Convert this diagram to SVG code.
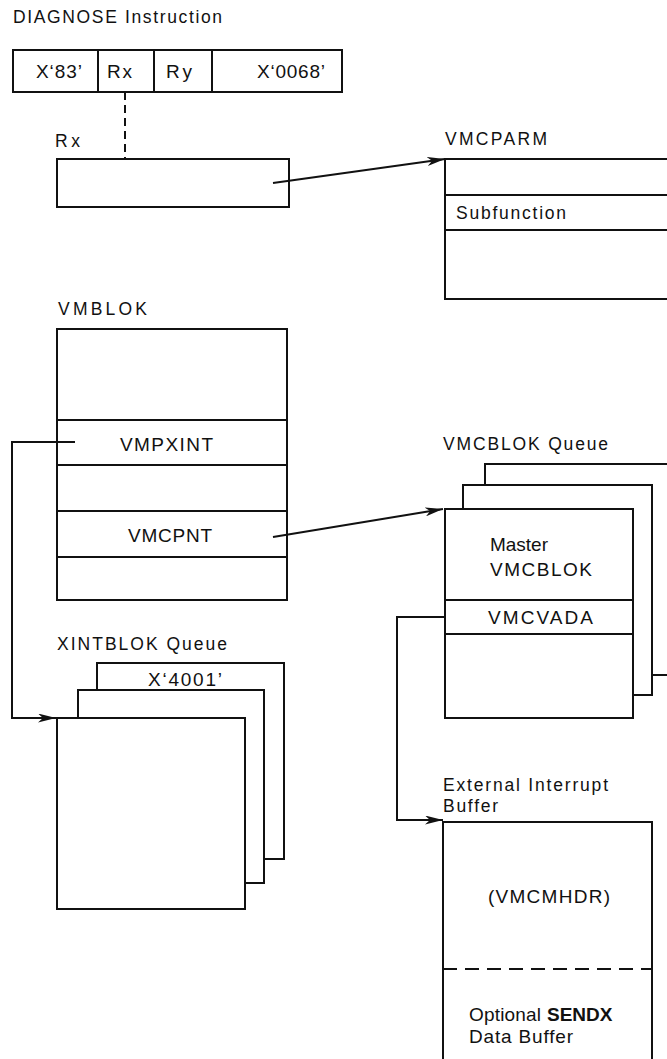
<svg xmlns="http://www.w3.org/2000/svg" width="667" height="1059" viewBox="0 0 667 1059">
<style>
.b{fill:#fff;stroke:#111;stroke-width:2}
.l{fill:none;stroke:#111;stroke-width:2}
.t{font-family:"Liberation Sans",Arial,sans-serif;font-size:17.5px;fill:#111}
.tb{font-family:"Liberation Sans",Arial,sans-serif;font-size:19px;fill:#111}
</style>
<defs>
<marker id="ah" viewBox="0 0 18 9" refX="18" refY="4.5" markerWidth="18" markerHeight="9" markerUnits="userSpaceOnUse" orient="auto">
<path d="M0,0 L18,4.5 L0,9 L5,4.5 Z" fill="#111"/>
</marker>
</defs>
<rect width="667" height="1059" fill="#fff"/>
<text class="t" x="13" y="23" textLength="209" lengthAdjust="spacing">DIAGNOSE Instruction</text>

<g id="instruction">
<rect class="b" x="13" y="50" width="329" height="42"/>
<line class="l" x1="98" y1="50" x2="98" y2="92"/>
<line class="l" x1="154" y1="50" x2="154" y2="92"/>
<line class="l" x1="212" y1="50" x2="212" y2="92"/>
<text class="tb" x="36" y="78" textLength="46" lengthAdjust="spacing">X‘83’</text>
<text class="tb" x="107" y="78" textLength="25" lengthAdjust="spacing">Rx</text>
<text class="tb" x="166" y="78" textLength="26" lengthAdjust="spacing">Ry</text>
<text class="tb" x="257" y="78" textLength="68" lengthAdjust="spacing">X‘0068’</text>
</g>

<g id="rx">
<text class="t" x="55" y="147" textLength="25" lengthAdjust="spacing">Rx</text>
<rect class="b" x="57" y="159" width="232" height="48"/>
</g>

<g id="vmcparm">
<text class="t" x="445" y="145" textLength="102" lengthAdjust="spacing">VMCPARM</text>
<path class="l" d="M667,159 H445 V299 H667 M445,195 H667 M445,230 H667"/>
<text class="t" x="456" y="219" textLength="110" lengthAdjust="spacing">Subfunction</text>
</g>

<g id="vmblok">
<text class="t" x="58" y="315" textLength="89" lengthAdjust="spacing">VMBLOK</text>
<rect class="b" x="57" y="329" width="230" height="271"/>
<path class="l" d="M57,420 H287 M57,465 H287 M57,511 H287 M57,557 H287"/>
<text class="tb" x="120" y="451" textLength="93" lengthAdjust="spacing">VMPXINT</text>
<text class="tb" x="128" y="542" textLength="84" lengthAdjust="spacing">VMCPNT</text>
</g>

<g id="xintblok">
<text class="t" x="57" y="650" textLength="170" lengthAdjust="spacing">XINTBLOK Queue</text>
<rect class="b" x="97" y="663" width="187" height="196"/>
<rect class="b" x="78" y="690" width="186" height="193"/>
<rect class="b" x="57" y="718" width="188" height="191"/>
<text class="tb" x="148" y="686" textLength="74" lengthAdjust="spacing">X‘4001’</text>
</g>

<g id="vmcblok">
<text class="t" x="443" y="450" textLength="165" lengthAdjust="spacing">VMCBLOK Queue</text>
<rect class="b" x="485" y="464" width="200" height="211"/>
<rect class="b" x="463" y="485" width="189" height="210"/>
<rect class="b" x="445" y="509" width="188" height="209"/>
<path class="l" d="M445,600 H633 M445,634 H633"/>
<text class="tb" x="490" y="551" textLength="58" lengthAdjust="spacing">Master</text>
<text class="tb" x="490" y="576" textLength="102" lengthAdjust="spacing">VMCBLOK</text>
<text class="tb" x="488" y="624" textLength="105" lengthAdjust="spacing">VMCVADA</text>
</g>

<g id="extbuffer">
<text class="t" x="443" y="791" textLength="165" lengthAdjust="spacing">External Interrupt</text>
<text class="t" x="443" y="812" textLength="55" lengthAdjust="spacing">Buffer</text>
<path class="l" d="M443,1059 V822 H652 V1059"/>
<line class="l" x1="443" y1="969" x2="652" y2="969" stroke-dasharray="14,8"/>
<text class="tb" x="488" y="903" textLength="122" lengthAdjust="spacing">(VMCMHDR)</text>
<text class="tb" x="469" y="1021" textLength="72" lengthAdjust="spacing">Optional</text>
<text class="tb" x="547" y="1021" font-weight="bold" font-size="20">SENDX</text>
<text class="tb" x="469" y="1043" textLength="104" lengthAdjust="spacing">Data Buffer</text>
</g>

<g id="connectors">
<line class="l" x1="125" y1="92" x2="125" y2="159" stroke-dasharray="8,5"/>
<line class="l" x1="273" y1="183" x2="445" y2="159" marker-end="url(#ah)"/>
<line class="l" x1="273" y1="537" x2="443" y2="509" marker-end="url(#ah)"/>
<path class="l" d="M75,442 H12 V718 H56" marker-end="url(#ah)"/>
<path class="l" d="M445,617 H397 V820 H443" marker-end="url(#ah)"/>
</g>
</svg>
